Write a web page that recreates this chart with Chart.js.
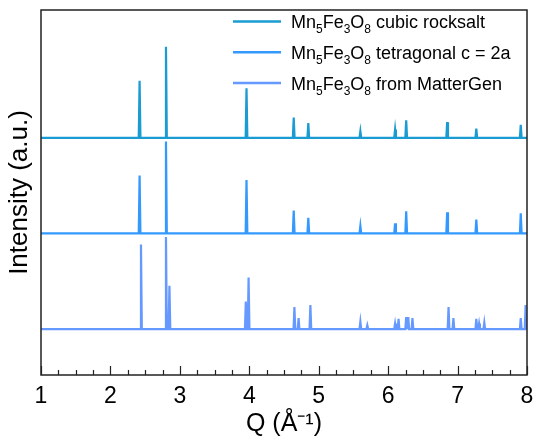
<!DOCTYPE html>
<html>
<head>
<meta charset="utf-8">
<script src="https://cdn.jsdelivr.net/npm/chart.js@4"></script>
<style>
  html, body { margin: 0; padding: 0; background: #fff; }
</style>
</head>
<body>
<canvas id="xrdChart" width="534" height="441"></canvas>
<script>
// Піки: положення Q (1/Å) та відносна інтенсивність
const formula = "Mn5Fe3O8";
const phaseNames = ["cubic rocksalt", "tetragonal c = 2a", "from MatterGen"];
const phaseColors = ["#1a9bd1", "#3399ff", "#6699ff"];
const phaseOffsets = [208, 104, 0];

const cubicQ = [2.42, 2.80, 3.96, 4.64, 4.85, 5.60, 6.10, 6.26, 6.85, 7.27, 7.91];
const cubicI = [62, 99, 54, 22, 16, 7, 9, 19, 17, 10, 14];

const tetraQ = [2.42, 2.80, 3.96, 4.64, 4.85, 5.60, 6.10, 6.26, 6.85, 7.27, 7.91];
const tetraI = [63, 100, 58, 25, 17, 8, 11, 24, 23, 15, 22];

const genQ = [2.44, 2.80, 2.85, 3.95, 3.99, 4.65, 4.71, 4.88, 5.60, 5.70, 6.10, 6.15,
              6.26, 6.29, 6.35, 6.87, 6.94, 7.27, 7.31, 7.385, 7.91, 7.98];
const genI = [92, 100, 47, 30, 56, 24, 12, 26, 8, 4, 6, 11,
              13, 13, 12, 24, 12, 11, 6, 7, 12, 26];

const xTicks = [1, 2, 3, 4, 5, 6, 7, 8];
const qMin = 1, qMax = 8;

const fontFamily = "'Liberation Sans', Arial, sans-serif";
const peakHalfWidth = 0.012;

// Будуємо профіль лінії: базова лінія + вузькі піки
function profile(qs, hs, off) {
    const pts = [{ x: qMin, y: off }];
    qs.forEach((q, i) => {
        pts.push({ x: q - peakHalfWidth, y: off });
        pts.push({ x: q, y: off + hs[i] });
        pts.push({ x: q + peakHalfWidth, y: off });
    });
    pts.push({ x: qMax, y: off });
    return pts;
}

const peakSets = [[cubicQ, cubicI], [tetraQ, tetraI], [genQ, genI]];

const datasets = peakSets.map(([qs, hs], i) => ({
    label: "Mn₅Fe₃O₈ " + phaseNames[i],
    data: profile(qs, hs, phaseOffsets[i]),
    borderColor: phaseColors[i],
    borderWidth: 2.2,
    pointRadius: 0,
    tension: 0,
    fill: false
}));

// Рамка та внутрішні мітки осі X
const framePlugin = {
    id: 'frame',
    afterDraw(chart) {
        const { ctx, chartArea: a, scales: { x } } = chart;
        ctx.save();
        ctx.strokeStyle = '#222';
        ctx.lineWidth = 1.5;
        ctx.strokeRect(a.left, a.top, a.right - a.left, a.bottom - a.top);
        ctx.beginPath();
        for (let i = 0; i <= (qMax - qMin) * 4; i++) {
            const px = Math.round(x.getPixelForValue(qMin + i * 0.25)) + 0.5;
            const len = i % 4 === 0 ? 9 : 5;
            ctx.moveTo(px, a.bottom);
            ctx.lineTo(px, a.bottom - len);
        }
        ctx.lineWidth = 1.2;
        ctx.stroke();
        ctx.restore();
    }
};

// Легенда з нижніми індексами у формулі
const legendPlugin = {
    id: 'subLegend',
    afterDraw(chart) {
        const { ctx } = chart;
        ctx.save();
        chart.data.datasets.forEach((ds, i) => {
            const y = 21.5 + i * 30.8;
            ctx.strokeStyle = ds.borderColor;
            ctx.lineWidth = 2.5;
            ctx.beginPath();
            ctx.moveTo(233, y);
            ctx.lineTo(281, y);
            ctx.stroke();

            let tx = 291;
            const base = y + 6.6;
            ctx.fillStyle = '#000';
            ctx.textBaseline = 'alphabetic';
            for (const ch of formula) {
                if (/\d/.test(ch)) {
                    ctx.font = '12px ' + fontFamily;
                    ctx.fillText(ch, tx, base + 5);
                } else {
                    ctx.font = '18px ' + fontFamily;
                    ctx.fillText(ch, tx, base);
                }
                tx += ctx.measureText(ch).width;
            }
            ctx.font = '18px ' + fontFamily;
            ctx.fillText(' ' + phaseNames[i], tx, base);
        });
        ctx.restore();
    }
};

const ctx = document.getElementById('xrdChart').getContext('2d');

new Chart(ctx, {
    type: 'line',
    data: { datasets },
    plugins: [framePlugin, legendPlugin],
    options: {
        responsive: false,
        animation: false,
        devicePixelRatio: 1,
        layout: { padding: { top: 10, right: 7, left: 0, bottom: 0 } },
        plugins: {
            legend: { display: false },
            tooltip: { enabled: false }
        },
        scales: {
            x: {
                type: 'linear',
                min: qMin,
                max: qMax,
                afterBuildTicks: (s) => { s.ticks = xTicks.map(v => ({ value: v })); },
                afterFit: (s) => {
                    s.height = 66;
                    s.paddingLeft = 0;
                    s.paddingRight = 0;
                },
                grid: { display: false, drawTicks: false },
                border: { display: false },
                ticks: {
                    color: '#000',
                    padding: 8,
                    maxRotation: 0,
                    autoSkip: false,
                    font: { family: fontFamily, size: 23 }
                },
                title: {
                    display: true,
                    text: 'Q (Å⁻¹)',
                    color: '#000',
                    padding: { top: 0, bottom: 2 },
                    font: { family: fontFamily, size: 25 }
                }
            },
            y: {
                min: -50,
                max: 347,
                afterFit: (s) => {
                    s.width = 41;
                    s.paddingTop = 0;
                    s.paddingBottom = 0;
                },
                grid: { display: false, drawTicks: false },
                border: { display: false },
                ticks: { display: false },
                title: {
                    display: true,
                    text: 'Intensity (a.u.)',
                    color: '#000',
                    padding: { top: 4, bottom: 0 },
                    font: { family: fontFamily, size: 26 }
                }
            }
        }
    }
});
</script>
</body>
</html>
